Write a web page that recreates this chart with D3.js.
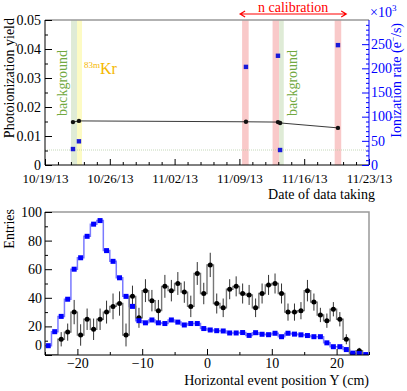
<!DOCTYPE html>
<html>
<head>
<meta charset="utf-8">
<script src="https://cdn.jsdelivr.net/npm/d3@7"></script>
<style>
  body { margin: 0; background: #fff; }
</style>
</head>
<body>
<div id="chart"></div>
<script>
// ---- top panel data ----
const runDates = ["2013-10-22 00:30", "2013-10-22 16:00", "2013-11-09 17:00", "2013-11-13 04:00", "2013-11-13 09:30", "2013-11-19 15:30"];
const yieldValues = [0.0148, 0.0152, 0.0149, 0.0148, 0.0145, 0.0128];
const rateValues = [33, 49, 203, 226, 31, 248]; // x10^3 e-/s
const bgRateLevel = 31;
const bandStart = ["2013-10-21 19:30", "2013-10-22 11:00", "2013-11-09 07:00", "2013-11-12 14:00", "2013-11-13 07:00", "2013-11-19 07:00"];
const bandEnd   = ["2013-10-22 11:00", "2013-10-23 00:00", "2013-11-10 00:00", "2013-11-13 07:00", "2013-11-13 19:00", "2013-11-20 00:00"];
const bandKind  = ["bg", "kr", "n", "n", "bg", "n"];
const dateTicks = ["10/19/13", "10/26/13", "11/02/13", "11/09/13", "11/16/13", "11/23/13"];
const yieldTicks = [0, 0.01, 0.02, 0.03, 0.04, 0.05];
const rateTicks = [0, 50, 100, 150, 200, 250];

// ---- bottom panel data ----
const binCenters = [-24.5,-23.5,-22.5,-21.5,-20.5,-19.5,-18.5,-17.5,-16.5,-15.5,-14.5,-13.5,-12.5,-11.5,-10.5,-9.5,-8.5,-7.5,-6.5,-5.5,-4.5,-3.5,-2.5,-1.5,-0.5,
  0.5,1.5,2.5,3.5,4.5,5.5,6.5,7.5,8.5,9.5,10.5,11.5,12.5,13.5,14.5,15.5,16.5,17.5,18.5,19.5,20.5,21.5,22.5,23.5,24.5];
const blueCounts = [6.5,16.3,27,39,60,68,83,91.5,94,73,65.5,54,41,34,24,22.5,24.5,22.5,22,24.5,23,21,22,22,18.5,
  17.5,17,16.8,15.4,15.4,15.7,13.7,15.6,14.5,14.2,15.2,12.8,15.2,14.6,14.1,13.6,12.8,12.8,8.5,5.8,5.8,3.8,1.3,1.1,0.3];
const blackCounts = [0,0,11,16,30,14,25,18,25,30,34,36,14,41,26,45,38,31,48,45,50,44,34,57,43,
  63,36,33,46,48,43,42,33,43,49,50,43,30,30,31,45,37,28,24,32,25,11,1,3,0];
const blackErrors = [0,0,5,6,8.5,7.5,7.5,7.5,7.5,8,9,8.5,8,7.5,7,8,7.5,7.5,8,7.5,8,7.5,7.5,8,7.5,
  8.5,7,6.5,7,7,7,7,6.5,7,7,7,7,6,6,6,7.5,6,5,5,5,5,3.5,1.5,2,0];
const posTicks = [-20, -10, 0, 10, 20];
const entryTicks = [0, 20, 40, 60, 80, 100];

const width = 407, height = 391;
const FONT = "'Liberation Serif', 'DejaVu Serif', serif";
const BLUE = "#0000ff", RED = "#ff0000", GREEN = "#70a840", KR = "#f5b800";

const svg = d3.select("#chart").append("svg")
  .attr("width", width).attr("height", height)
  .attr("font-family", FONT);

const parseT = d3.timeParse("%Y-%m-%d %H:%M");
const parseTick = d3.timeParse("%m/%d/%y");

// d3 axes put their own font on the group; take it off again
const serifAxis = a => a.attr("font-family", null).attr("font-size", null);

// ================= top panel =================
const tb = { l: 45, r: 369, t: 20, b: 165 };
const x0 = d3.scaleTime().domain([parseTick(dateTicks[0]), parseTick(dateTicks[dateTicks.length - 1])]).range([tb.l, tb.r]);
const yL = d3.scaleLinear().domain([0, 0.05]).range([tb.b, tb.t]);
const yR = d3.scaleLinear().domain([0, 300]).range([tb.b, tb.t]);

const g0 = svg.append("g").attr("font-size", 13);

// bands
const bandColor = { bg: "#dfebd6", kr: "#fdfbc4", n: "#f9c9c9" };
g0.selectAll("rect.band").data(bandKind).enter().append("rect")
  .attr("x", (d, i) => x0(parseT(bandStart[i])))
  .attr("width", (d, i) => x0(parseT(bandEnd[i])) - x0(parseT(bandStart[i])))
  .attr("y", tb.t).attr("height", tb.b - tb.t)
  .attr("fill", d => bandColor[d]);

// background rate level
g0.append("line")
  .attr("x1", tb.l).attr("x2", tb.r)
  .attr("y1", yR(bgRateLevel)).attr("y2", yR(bgRateLevel))
  .attr("stroke", "#b8cfa8").attr("stroke-width", 0.8).attr("stroke-dasharray", "1,1");

// frame
g0.append("line").attr("x1", tb.l).attr("x2", tb.r).attr("y1", tb.t).attr("y2", tb.t)
  .attr("stroke", "#999").attr("stroke-width", 1.5);

// x axis ticks (inside)
const majorDates = dateTicks.map(parseTick);
const minorDates = [];
majorDates.slice(0, -1).forEach((d, i) => {
  const step = (majorDates[i + 1] - d) / 5;
  for (let k = 1; k < 5; k++) minorDates.push(new Date(+d + k * step));
});
g0.append("g").attr("transform", `translate(0,${tb.b})`)
  .call(d3.axisBottom(x0).tickValues(minorDates).tickSize(-3).tickFormat(""))
  .call(a => a.select(".domain").remove());
g0.append("g").attr("transform", `translate(0,${tb.b})`)
  .call(d3.axisBottom(x0).tickValues(majorDates).tickSize(-6).tickPadding(9).tickFormat(d3.timeFormat("%m/%d/%y")))
  .call(serifAxis)
  .call(a => a.select(".domain").remove())
  .call(a => a.selectAll("text").attr("fill", "#000"));
g0.append("line").attr("x1", tb.l).attr("x2", tb.r).attr("y1", tb.b).attr("y2", tb.b).attr("stroke", "#000");

// left axis
g0.append("g").attr("transform", `translate(${tb.l},0)`)
  .call(d3.axisLeft(yL).tickValues(d3.range(0.005, 0.05, 0.01)).tickSize(-3).tickFormat(""))
  .call(a => a.select(".domain").remove());
g0.append("g").attr("transform", `translate(${tb.l},0)`)
  .call(d3.axisLeft(yL).tickValues(yieldTicks).tickSize(-7).tickPadding(4).tickFormat(d => d === 0 ? "0" : d3.format(".2f")(d)))
  .call(serifAxis)
  .call(a => a.select(".domain").remove())
  .call(a => a.selectAll("text").attr("fill", "#000").attr("font-size", 14).attr("dy", "0.3em"));
g0.append("line").attr("x1", tb.l).attr("x2", tb.l).attr("y1", tb.t).attr("y2", tb.b).attr("stroke", "#000");

// right axis (blue)
g0.append("g").attr("transform", `translate(${tb.r},0)`)
  .call(d3.axisRight(yR).tickValues(d3.range(10, 300, 10).filter(v => v % 50 !== 0)).tickSize(-3).tickFormat(""))
  .call(a => a.select(".domain").remove())
  .call(a => a.selectAll("line").attr("stroke", BLUE));
g0.append("g").attr("transform", `translate(${tb.r},0)`)
  .call(d3.axisRight(yR).tickValues(rateTicks).tickSize(-7).tickPadding(2))
  .call(serifAxis)
  .call(a => a.select(".domain").remove())
  .call(a => a.selectAll("line").attr("stroke", BLUE))
  .call(a => a.selectAll("text").attr("fill", BLUE).attr("font-size", 14).attr("dy", "0.3em"));
g0.append("line").attr("x1", tb.r).attr("x2", tb.r).attr("y1", tb.t).attr("y2", tb.b).attr("stroke", BLUE);

// yield line + points
const pts = runDates.map((d, i) => ({ t: parseT(d), y: yieldValues[i], r: rateValues[i] }));
g0.append("path").datum(pts)
  .attr("d", d3.line().x(d => x0(d.t)).y(d => yL(d.y)))
  .attr("fill", "none").attr("stroke", "#222").attr("stroke-width", 0.9);
g0.selectAll("circle.yld").data(pts).enter().append("circle")
  .attr("cx", d => x0(d.t)).attr("cy", d => yL(d.y)).attr("r", 2.2).attr("fill", "#111");
g0.selectAll("rect.rate").data(pts).enter().append("rect")
  .attr("x", d => x0(d.t) - 2.2).attr("y", d => yR(d.r) - 2.2)
  .attr("width", 4.4).attr("height", 4.4).attr("fill", "#1a1ad8");

// labels
g0.append("text").attr("transform", `translate(14,${tb.t - 2}) rotate(-90)`)
  .attr("text-anchor", "end").attr("font-size", 14).text("Photoionization yield");
const rt = g0.append("text").attr("transform", `translate(401,${tb.t + 3}) rotate(-90)`)
  .attr("text-anchor", "end").attr("font-size", 14).attr("fill", BLUE);
rt.append("tspan").text("Ionization rate (e");
rt.append("tspan").attr("dy", -5).attr("font-size", 9).text("−");
rt.append("tspan").attr("dy", 5).text("/s)");
const e3 = g0.append("text").attr("x", 370).attr("y", 17).attr("font-size", 14).attr("fill", BLUE);
e3.append("tspan").text("×10");
e3.append("tspan").attr("dy", -6).attr("font-size", 9).text("3");

g0.append("text").attr("x", 375).attr("y", 199).attr("text-anchor", "end")
  .attr("font-size", 14).text("Date of data taking");

// band annotations
g0.append("text").attr("transform", `translate(67,116) rotate(-90)`)
  .attr("font-size", 14).attr("fill", GREEN).text("background");
g0.append("text").attr("transform", `translate(297,116) rotate(-90)`)
  .attr("font-size", 14).attr("fill", GREEN).text("background");
const kr = g0.append("text").attr("x", 84).attr("y", 74).attr("fill", KR);
kr.append("tspan").attr("font-size", 9).attr("dy", -6).text("83m");
kr.append("tspan").attr("font-size", 16).attr("dy", 6).text("Kr");

// n calibration arrow
const ax1 = x0(parseT(bandStart[2])) - 2, ax2 = x0(parseT(bandEnd[5])) + 5, ay = 14;
g0.append("path")
  .attr("d", `M${ax1},${ay}H${ax2}M${ax1 + 5},${ay - 3}L${ax1},${ay}L${ax1 + 5},${ay + 3}M${ax2 - 5},${ay - 3}L${ax2},${ay}L${ax2 - 5},${ay + 3}`)
  .attr("fill", "none").attr("stroke", RED).attr("stroke-width", 1.2);
g0.append("text").attr("x", (ax1 + ax2) / 2).attr("y", 12).attr("text-anchor", "middle")
  .attr("font-size", 14).attr("fill", RED).text("n calibration");

// ================= bottom panel =================
const bb = { l: 45, r: 369, t: 212, b: 355 };
const x1 = d3.scaleLinear().domain([-25, 25]).range([bb.l, bb.r]);
const y1 = d3.scaleLinear().domain([0, 100]).range([bb.b, bb.t]);
const g1 = svg.append("g").attr("font-size", 14);

g1.append("clipPath").attr("id", "clipB").append("rect")
  .attr("x", bb.l).attr("y", bb.t).attr("width", bb.r - bb.l).attr("height", bb.b - bb.t);

// frame top/right
g1.append("path").attr("d", `M${bb.l},${bb.t}H${bb.r}V${bb.b}`)
  .attr("fill", "none").attr("stroke", "#999").attr("stroke-width", 1.5);

const stepPts = vals => {
  const out = [];
  binCenters.forEach((c, i) => { out.push([c - 0.5, vals[i]]); out.push([c + 0.5, vals[i]]); });
  return out;
};
const stepLine = d3.line().x(d => x1(d[0])).y(d => y1(d[1]));

const plot = g1.append("g").attr("clip-path", "url(#clipB)");

// blue histogram
plot.append("path").datum(stepPts(blueCounts)).attr("d", stepLine)
  .attr("fill", "none").attr("stroke", "#7a7aff").attr("stroke-width", 1.5);

// black histogram
plot.append("path").datum(stepPts(blackCounts)).attr("d", stepLine)
  .attr("fill", "none").attr("stroke", "#777").attr("stroke-width", 1.4);
const blk = binCenters.map((c, i) => ({ c, v: blackCounts[i], e: blackErrors[i] })).filter(d => d.v > 0);
plot.selectAll("line.err").data(blk).enter().append("line")
  .attr("x1", d => x1(d.c)).attr("x2", d => x1(d.c))
  .attr("y1", d => y1(d.v - d.e)).attr("y2", d => y1(d.v + d.e))
  .attr("stroke", "#333").attr("stroke-width", 1);
plot.selectAll("circle.blk").data(blk).enter().append("circle")
  .attr("cx", d => x1(d.c)).attr("cy", d => y1(d.v)).attr("r", 2.5).attr("fill", "#000");
plot.selectAll("rect.blu").data(binCenters.map((c, i) => ({ c, v: blueCounts[i] }))).enter().append("rect")
  .attr("x", d => x1(d.c) - 2.5).attr("y", d => y1(d.v) - 2.5)
  .attr("width", 5).attr("height", 5).attr("fill", BLUE);

// axes
g1.append("g").attr("transform", `translate(0,${bb.b})`)
  .call(d3.axisBottom(x1).tickValues([-25, -15, -5, 5, 15, 25]).tickSize(-3).tickFormat(""))
  .call(a => a.select(".domain").remove());
g1.append("g").attr("transform", `translate(0,${bb.b})`)
  .call(d3.axisBottom(x1).tickValues(posTicks).tickSize(-6).tickPadding(3).tickFormat(d => d < 0 ? "−" + Math.abs(d) : d))
  .call(serifAxis)
  .call(a => a.select(".domain").remove())
  .call(a => a.selectAll("text").attr("fill", "#000"));
g1.append("line").attr("x1", bb.l).attr("x2", bb.r).attr("y1", bb.b).attr("y2", bb.b).attr("stroke", "#000");

g1.append("g").attr("transform", `translate(${bb.l},0)`)
  .call(d3.axisLeft(y1).tickValues([10, 30, 50, 70, 90]).tickSize(-3).tickFormat(""))
  .call(a => a.select(".domain").remove());
g1.append("g").attr("transform", `translate(${bb.l},0)`)
  .call(d3.axisLeft(y1).tickValues(entryTicks).tickSize(-7).tickPadding(3))
  .call(serifAxis)
  .call(a => a.select(".domain").remove())
  .call(a => a.selectAll("text").attr("fill", "#000")
    .attr("dy", d => d === 0 ? "-0.4em" : "0.32em"));
g1.append("line").attr("x1", bb.l).attr("x2", bb.l).attr("y1", bb.t).attr("y2", bb.b).attr("stroke", "#000");

g1.append("text").attr("transform", `translate(14,${bb.t - 3}) rotate(-90)`)
  .attr("text-anchor", "end").text("Entries");
g1.append("text").attr("x", bb.r).attr("y", 385).attr("text-anchor", "end")
  .text("Horizontal event position Y (cm)");
</script>
</body>
</html>
